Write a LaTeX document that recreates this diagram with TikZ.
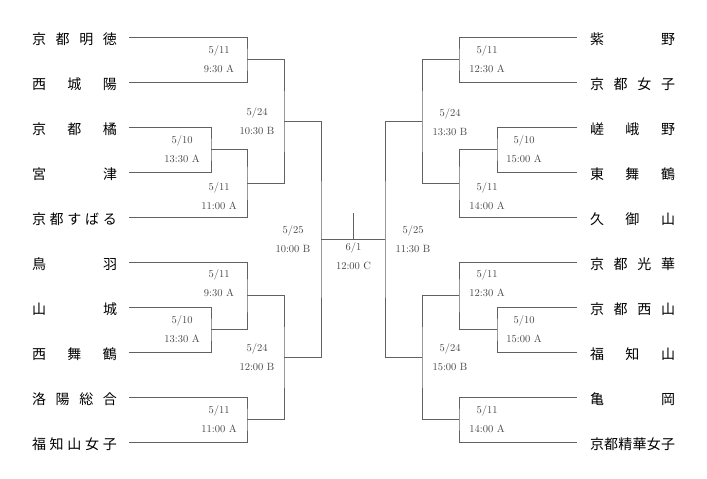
\documentclass[tikz,border=0pt]{standalone}
\usepackage{fontspec}
\newfontfamily\jpfont{Noto Sans CJK JP}
\newcommand\spr[1]{\makebox[85pt][s]{#1}}
\tikzset{
  bline/.style={draw=black!62, line width=0.9pt},
  team/.style={font=\jpfont\fontsize{14}{16}\selectfont, inner sep=0pt, anchor=center},
  sched/.style={font=\fontsize{10.5}{19}\selectfont, text=black!72, align=center, inner sep=0pt},
}
\begin{document}
\begin{tikzpicture}[x=1pt,y=-1pt]
\useasboundingbox (0,0) rectangle (707,479);
% ---------- team names left ----------
\node[team] (n0) at (74.5,39) {\spr{京\hfil 都\hfil 明\hfil 徳}};
\node[team] (n1) at (74.5,84) {\spr{西\hfil 城\hfil 陽}};
\node[team] (n2) at (74.5,129) {\spr{京\hfil 都\hfil 橘}};
\node[team] (n3) at (74.5,174) {\spr{宮\hfil 津}};
\node[team] (n4) at (74.5,219) {\spr{京\hfil 都\hfil す\hfil ば\hfil る}};
\node[team] (n5) at (74.5,264) {\spr{鳥\hfil 羽}};
\node[team] (n6) at (74.5,309) {\spr{山\hfil 城}};
\node[team] (n7) at (74.5,354) {\spr{西\hfil 舞\hfil 鶴}};
\node[team] (n8) at (74.5,399) {\spr{洛\hfil 陽\hfil 総\hfil 合}};
\node[team] (n9) at (74.5,444) {\spr{福\hfil 知\hfil 山\hfil 女\hfil 子}};
% ---------- team names right ----------
\node[team] (m0) at (632.5,39) {\spr{紫\hfil 野}};
\node[team] (m1) at (632.5,84) {\spr{京\hfil 都\hfil 女\hfil 子}};
\node[team] (m2) at (632.5,129) {\spr{嵯\hfil 峨\hfil 野}};
\node[team] (m3) at (632.5,174) {\spr{東\hfil 舞\hfil 鶴}};
\node[team] (m4) at (632.5,219) {\spr{久\hfil 御\hfil 山}};
\node[team] (m5) at (632.5,264) {\spr{京\hfil 都\hfil 光\hfil 華}};
\node[team] (m6) at (632.5,309) {\spr{京\hfil 都\hfil 西\hfil 山}};
\node[team] (m7) at (632.5,354) {\spr{福\hfil 知\hfil 山}};
\node[team] (m8) at (632.5,399) {\spr{亀\hfil 岡}};
\node[team] (m9) at (632.5,444) {\spr{京\hfil 都\hfil 精\hfil 華\hfil 女\hfil 子}};
% ---------- line start coordinates ----------
\coordinate (s0) at (129,37);  \coordinate (s1) at (129,82);
\coordinate (s2) at (129,127); \coordinate (s3) at (129,172);
\coordinate (s4) at (129,217); \coordinate (s5) at (129,262);
\coordinate (s6) at (129,307); \coordinate (s7) at (129,352);
\coordinate (s8) at (129,397); \coordinate (s9) at (129,442);
\coordinate (t0) at (577,37);  \coordinate (t1) at (577,82);
\coordinate (t2) at (577,127); \coordinate (t3) at (577,172);
\coordinate (t4) at (577,217); \coordinate (t5) at (577,262);
\coordinate (t6) at (577,307); \coordinate (t7) at (577,352);
\coordinate (t8) at (577,397); \coordinate (t9) at (577,442);
% ---------- junctions ----------
\coordinate (j1) at (247,59.5);
\coordinate (j2) at (211,149.5);
\coordinate (j3) at (247,183.2);
\coordinate (j4) at (284,121.4);
\coordinate (j5) at (211,329.5);
\coordinate (j6) at (247,295.5);
\coordinate (j7) at (247,419.5);
\coordinate (j8) at (284,357.5);
\coordinate (j9) at (321,239.4);
\coordinate (k1) at (459,59.5);
\coordinate (k2) at (497,149.5);
\coordinate (k3) at (459,183.2);
\coordinate (k4) at (422,121.4);
\coordinate (k6) at (497,329.5);
\coordinate (k5) at (459,295.5);
\coordinate (k7) at (459,419.5);
\coordinate (k8) at (422,357.5);
\coordinate (k9) at (385,239.4);
\coordinate (fc) at (353,239.4);
\coordinate (ft) at (353,213);
% ---------- bracket lines left ----------
\draw[bline] (s0) -| (j1) |- (s1);
\draw[bline] (s2) -| (j2) |- (s3);
\draw[bline] (j2) -| (j3) |- (s4);
\draw[bline] (j1) -| (j4) |- (j3);
\draw[bline] (s5) -| (j6) |- (j5);
\draw[bline] (s6) -| (j5) |- (s7);
\draw[bline] (s8) -| (j7) |- (s9);
\draw[bline] (j6) -| (j8) |- (j7);
\draw[bline] (j4) -| (j9) |- (j8);
% ---------- bracket lines right ----------
\draw[bline] (t0) -| (k1) |- (t1);
\draw[bline] (t2) -| (k2) |- (t3);
\draw[bline] (k2) -| (k3) |- (t4);
\draw[bline] (k1) -| (k4) |- (k3);
\draw[bline] (t5) -| (k5) |- (k6);
\draw[bline] (t6) -| (k6) |- (t7);
\draw[bline] (t8) -| (k7) |- (t9);
\draw[bline] (k5) -| (k8) |- (k7);
\draw[bline] (k4) -| (k9) |- (k8);
% ---------- final ----------
\draw[bline] (j9) -- (k9);
\draw[bline] (fc) -- (ft);
% ---------- schedule labels ----------
\node[sched] (l1) at (219,59.5) {5/11\\9:30 A};
\node[sched] (l2) at (182,149.5) {5/10\\13:30 A};
\node[sched] (l3) at (219,196) {5/11\\11:00 A};
\node[sched] (l4) at (257,121.5) {5/24\\10:30 B};
\node[sched] (l9) at (293,239.5) {5/25\\10:00 B};
\node[sched] (l6) at (219,283) {5/11\\9:30 A};
\node[sched] (l5) at (182,329.5) {5/10\\13:30 A};
\node[sched] (l8) at (257,357.5) {5/24\\12:00 B};
\node[sched] (l7) at (219,419.5) {5/11\\11:00 A};
\node[sched] (lf) at (353.5,256.5) {6/1\\12:00 C};
\node[sched] (r1) at (487,59.5) {5/11\\12:30 A};
\node[sched] (r2) at (524,149.5) {5/10\\15:00 A};
\node[sched] (r3) at (487,196.5) {5/11\\14:00 A};
\node[sched] (r4) at (450,122) {5/24\\13:30 B};
\node[sched] (r9) at (413,239.5) {5/25\\11:30 B};
\node[sched] (r5) at (487,283.5) {5/11\\12:30 A};
\node[sched] (r6) at (524,329.5) {5/10\\15:00 A};
\node[sched] (r8) at (450,357.5) {5/24\\15:00 B};
\node[sched] (r7) at (487,419.5) {5/11\\14:00 A};
\end{tikzpicture}
\end{document}
